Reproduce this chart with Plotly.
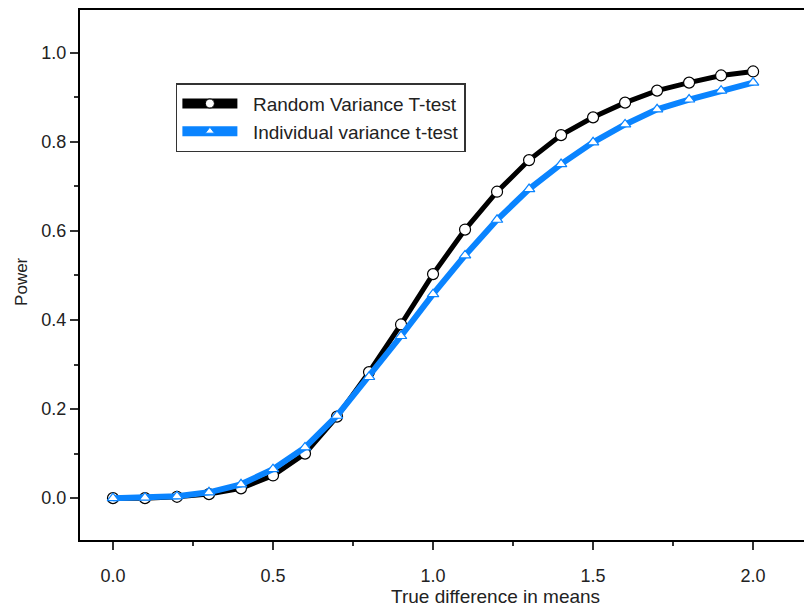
import plotly.graph_objects as go

diff = [0.0, 0.1, 0.2, 0.3, 0.4, 0.5, 0.6, 0.7, 0.8, 0.9, 1.0,
        1.1, 1.2, 1.3, 1.4, 1.5, 1.6, 1.7, 1.8, 1.9, 2.0]
random_var = [0.0, 0.0, 0.003, 0.009, 0.022, 0.051, 0.10, 0.183, 0.283, 0.39, 0.503,
              0.603, 0.688, 0.759, 0.815, 0.855, 0.888, 0.915, 0.933, 0.949, 0.958]
indiv_var = [0.0, 0.001, 0.004, 0.013, 0.031, 0.065, 0.114, 0.185, 0.272, 0.364, 0.458,
             0.545, 0.625, 0.694, 0.75, 0.799, 0.839, 0.873, 0.895, 0.915, 0.933]
xticks = [0.0, 0.5, 1.0, 1.5, 2.0]
yticks = [0.0, 0.2, 0.4, 0.6, 0.8, 1.0]
series_names = ["Random Variance T-test", "Individual variance t-test"]

FONT = "Liberation Sans, Arial, sans-serif"
BLACK = "black"
BLUE = "#0a84ff"
NB = "\u00a0\u00a0"

fig = go.Figure()
fig.add_trace(go.Scatter(
    x=diff, y=random_var, mode="lines+markers", showlegend=False,
    line=dict(color=BLACK, width=5),
    marker=dict(symbol="circle", size=11, color="white", line=dict(color=BLACK, width=1.2)),
))
fig.add_trace(go.Scatter(
    x=diff, y=indiv_var, mode="lines+markers", showlegend=False,
    line=dict(color=BLUE, width=6),
    marker=dict(symbol="triangle-up", size=10, color="white", line=dict(color=BLUE, width=1.2)),
))
# legend samples (thicker strokes as in the reference key)
fig.add_trace(go.Scatter(
    x=[None], y=[None], mode="lines+markers", name=NB + series_names[0],
    line=dict(color=BLACK, width=10),
    marker=dict(symbol="circle", size=9, color="white", line=dict(color=BLACK, width=1)),
))
fig.add_trace(go.Scatter(
    x=[None], y=[None], mode="lines+markers", name=NB + series_names[1],
    line=dict(color=BLUE, width=10),
    marker=dict(symbol="triangle-up", size=8, color="white", line=dict(color=BLUE, width=1)),
))

fig.update_layout(
    width=804, height=602,
    margin=dict(l=72, r=0, t=0, b=70),
    paper_bgcolor="white", plot_bgcolor="white",
    font=dict(family=FONT, size=18, color="#222"),
    showlegend=True,
    legend=dict(
        x=0.131, y=0.862, xanchor="left", yanchor="top",
        bordercolor="#333", borderwidth=1.5, bgcolor="white",
        font=dict(family=FONT, size=19, color="#222"),
        itemwidth=55, tracegroupgap=0,
    ),
    xaxis=dict(
        range=[-0.103, 2.184], tickvals=xticks, ticktext=[f"{v:.1f}" for v in xticks],
        showline=True, linecolor="black", linewidth=2, mirror=True,
        ticks="outside", ticklen=8, tickcolor="#333", tickwidth=1.5,
        minor=dict(dtick=0.25, tick0=0, ticks="outside", ticklen=4, tickcolor="#333"),
        showgrid=False, zeroline=False, ticklabelstandoff=10,
        tickfont=dict(family=FONT, size=18, color="#222"),
    ),
    yaxis=dict(
        range=[-0.094, 1.096], tickvals=yticks, ticktext=[f"{v:.1f}" for v in yticks],
        showline=True, linecolor="black", linewidth=2, mirror=False,
        ticks="outside", ticklen=8, tickcolor="#333", tickwidth=1.5,
        minor=dict(dtick=0.1, tick0=0, ticks="outside", ticklen=4, tickcolor="#333"),
        showgrid=False, zeroline=False,
        tickfont=dict(family=FONT, size=18, color="#222"),
    ),
    annotations=[
        dict(text="True difference in means", xref="paper", yref="paper",
             x=0.567, y=-0.107, xanchor="center", yanchor="middle",
             showarrow=False, font=dict(family=FONT, size=19, color="#222")),
        dict(text="Power", xref="paper", yref="paper",
             x=-0.0792, y=0.487, xanchor="center", yanchor="middle", textangle=-90,
             showarrow=False, font=dict(family=FONT, size=17, color="#222")),
    ],
)

fig.write_html("out.html")
